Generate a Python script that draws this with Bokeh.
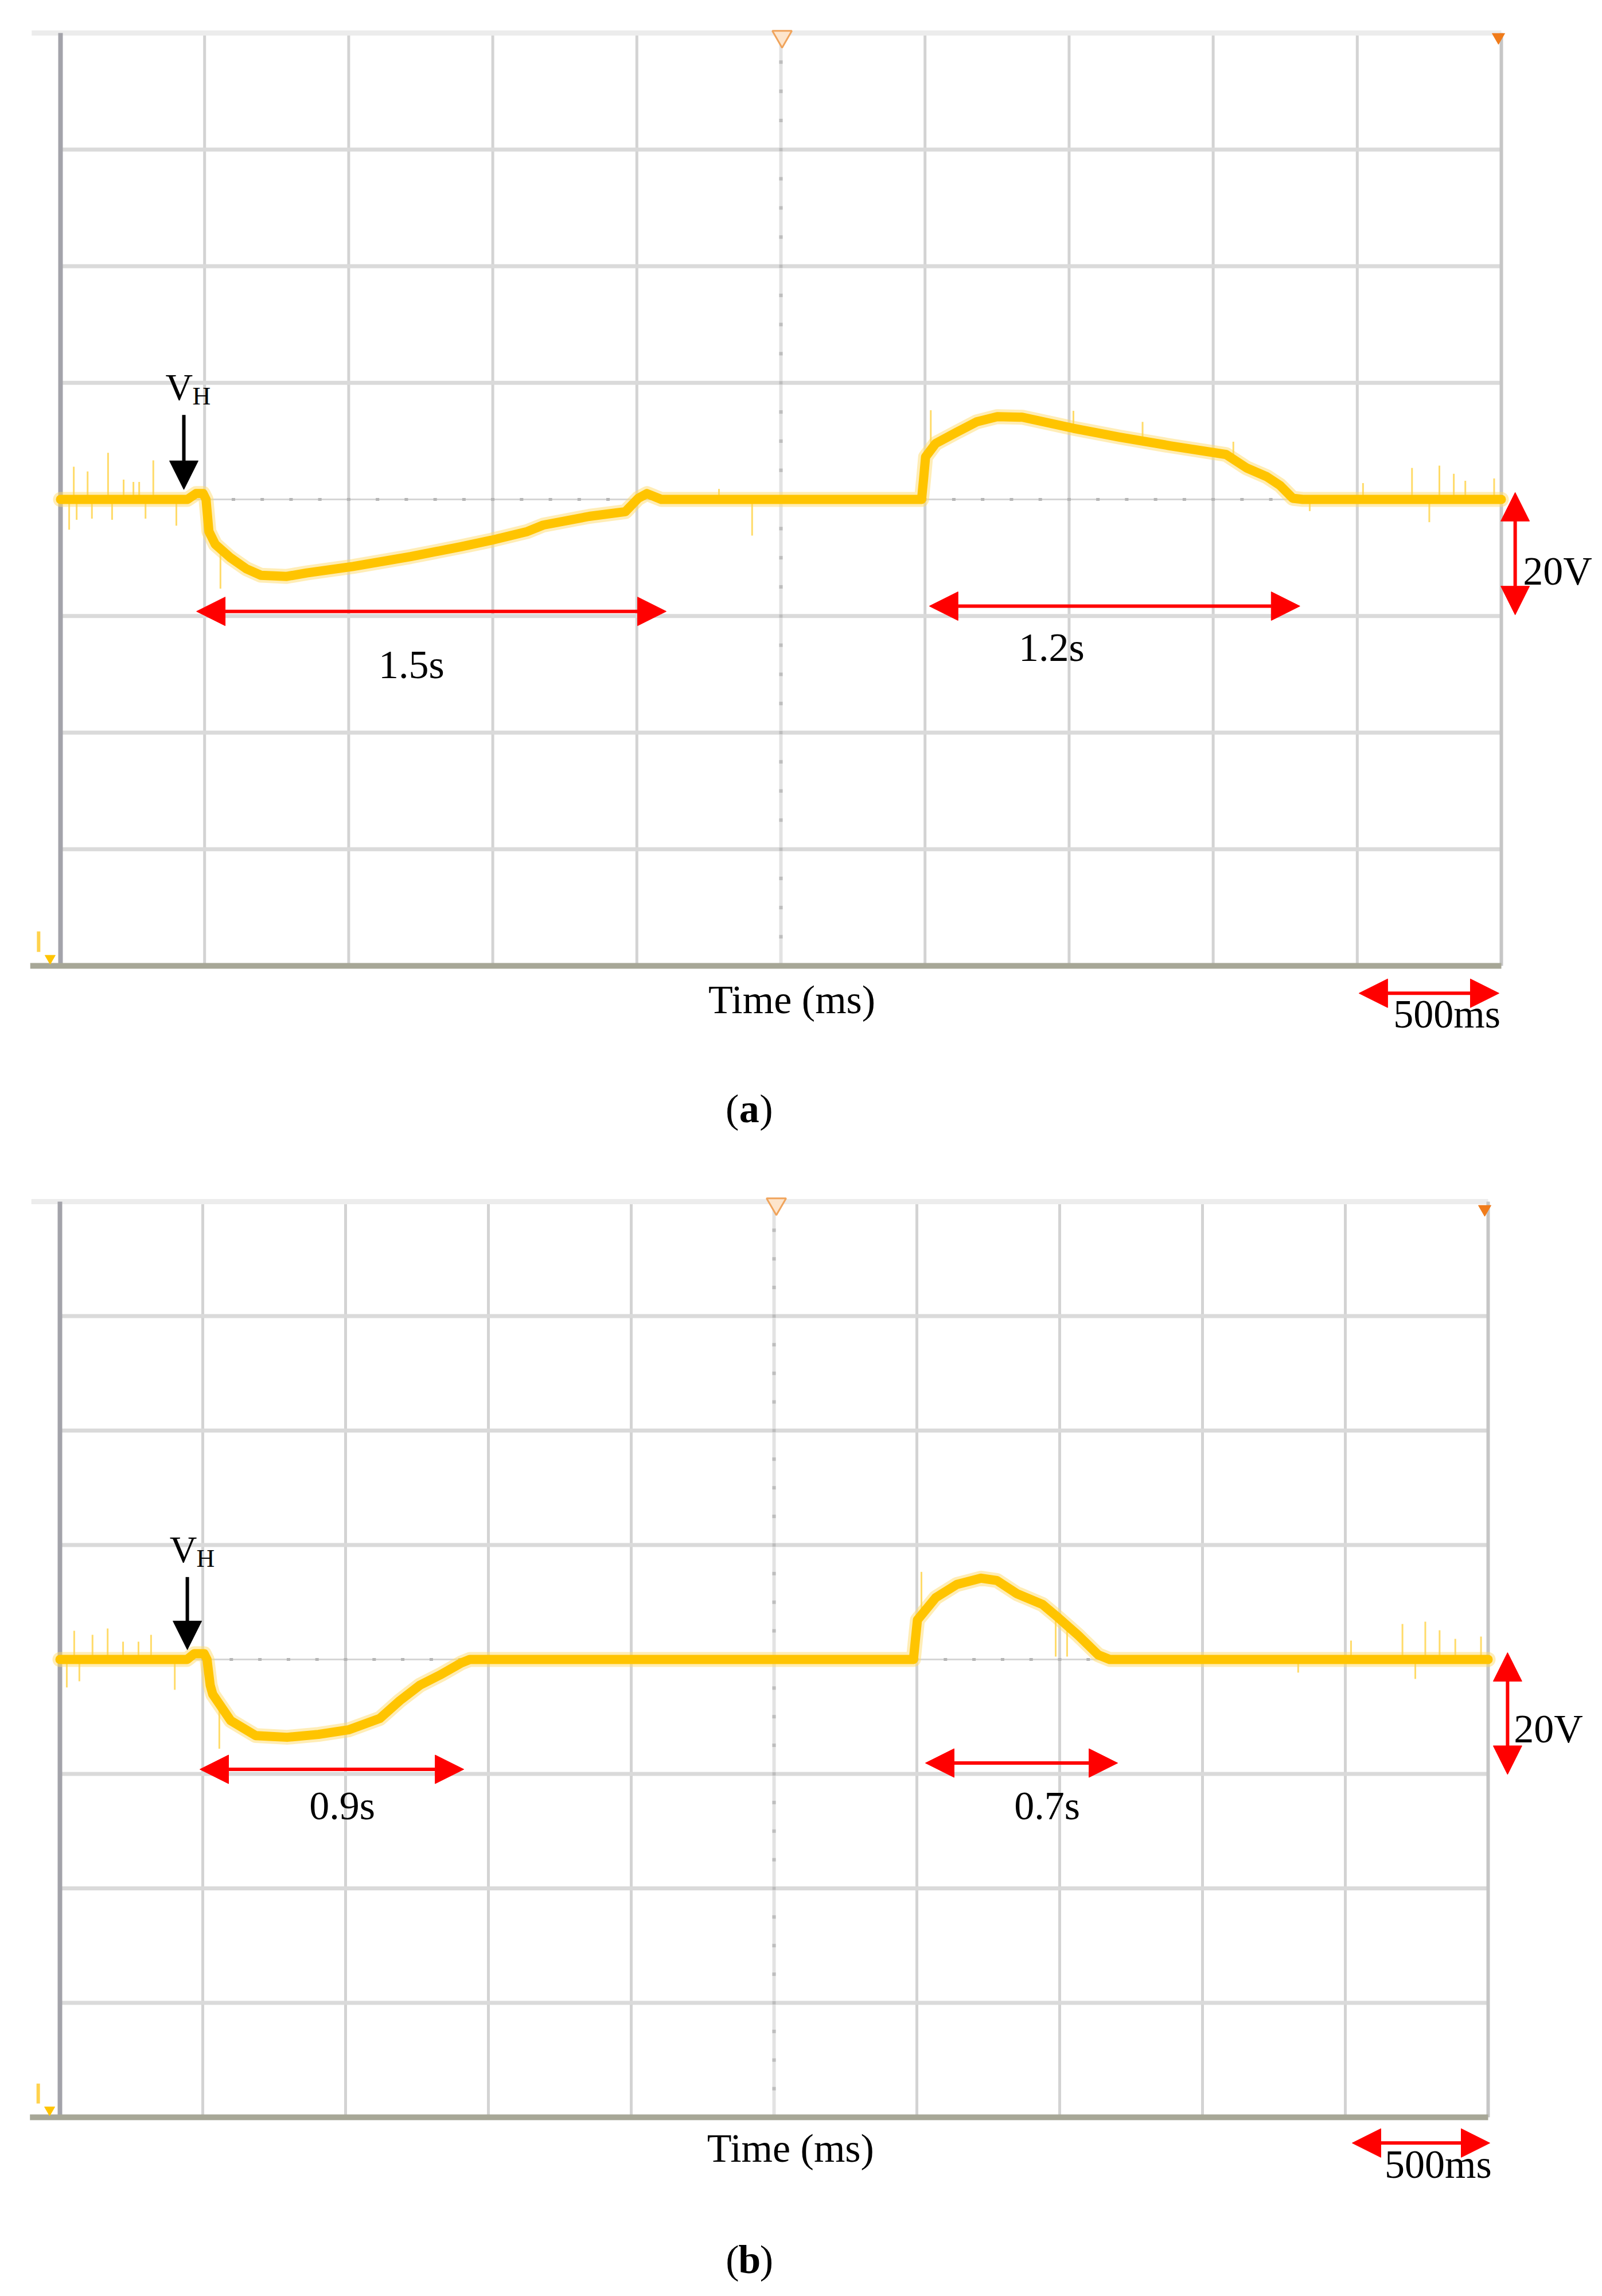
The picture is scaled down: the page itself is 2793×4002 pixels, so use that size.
import numpy as np
from bokeh.plotting import figure
from bokeh.layouts import column
from bokeh.models import Arrow, NormalHead, Label, Range1d
from bokeh.embed import file_html
from bokeh.resources import INLINE

FONT = "Liberation Serif"

# ---------------- data ----------------
# graticule: 500 ms/div, 20 V/div (10 x 8 divisions)
grid_time_ms = [0, 500, 1000, 1500, 2000, 2500, 3000, 3500, 4000, 4500, 5000]
grid_volt = [-80, -60, -40, -20, 0, 20, 40, 60, 80]

# panel (a) trace
a_time_ms = [0, 440, 470, 495, 505, 515, 537, 590, 645, 695, 785, 855, 1015, 1215,
             1390, 1495, 1620, 1675, 1835, 1960, 2005, 2035, 2085,
             2988, 2995, 3002, 3037, 3109, 3179, 3251, 3338, 3515, 3674, 3851,
             4045, 4116, 4186, 4232, 4276, 4311, 5000]
a_volt = [0, 0, 1.0, 1.0, 0, -5.5, -7.7, -10.0, -11.9, -13.0, -13.2, -12.6, -11.5, -9.8,
          -8.1, -7.0, -5.5, -4.4, -2.9, -2.1, 0.2, 1.0, 0,
          0, 3.5, 7.3, 9.6, 11.5, 13.3, 14.2, 14.1, 12.2, 10.7, 9.2,
          7.7, 5.4, 3.9, 2.4, 0.2, 0, 0]
a_spike_time = [30, 46, 56, 94, 109, 165, 179, 219, 253, 273, 295, 322, 402, 555,
                2285, 2400, 3020, 3515, 3755, 4070, 4335, 4520, 4690, 4750, 4785,
                4835, 4875, 4975]
a_spike_volt = [-5.2, 5.6, -3.5, 4.8, -3.3, 8.0, -3.5, 3.4, 3.0, 3.0, -3.3, 6.7, -4.5,
                -15.3, 1.8, -6.2, 15.3, 15.2, 13.3, 9.9, -2.0, 2.8, 5.4, -3.9, 5.8,
                4.4, 3.2, 3.6]

# panel (b) trace
b_time_ms = [0, 445, 470, 505, 515, 526, 535, 598, 685, 795, 905, 1010, 1120, 1190,
             1260, 1335, 1405, 1435,
             2988, 2995, 3002, 3066, 3140, 3225, 3280, 3350, 3440, 3495, 3565,
             3635, 3675, 5000]
b_volt = [0, 0, 1.0, 1.0, 0, -4.5, -6.1, -10.7, -13.3, -13.6, -13.1, -12.3, -10.3, -7.2,
          -4.5, -2.6, -0.6, 0,
          0, 3.5, 6.9, 10.8, 13.1, 14.2, 13.8, 11.5, 9.6, 7.3, 4.2,
          0.8, 0, 0]
b_spike_time = [24, 50, 68, 114, 167, 221, 275, 319, 402, 558, 3016, 3486, 3526,
                4335, 4520, 4700, 4745, 4780, 4830, 4885, 4975]
b_spike_volt = [-4.9, 5.0, -3.8, 4.3, 5.4, 3.1, 3.1, 4.3, -5.3, -15.6, 15.3, 0.5, 0.5,
                -2.3, 3.3, 6.2, -3.4, 6.6, 5.1, 3.6, 4.0]

# duration annotations (label, start ms, end ms)
a_durations = [("1.5s", 472, 2102), ("1.2s", 3015, 4301)]
b_durations = [("0.9s", 490, 1414), ("0.7s", 3030, 3703)]
scale_volt_label = "20V"
scale_time_label = "500ms"
x_title = "Time (ms)"

# ---------------- layout / style ----------------
PANELS = [
    dict(t=a_time_ms, v=a_volt, st=a_spike_time, sv=a_spike_volt, dur=a_durations,
         tag="a", height=2000, xr=(-209.0, 5350.3), yr=(-111.19, 85.61),
         dur_y=[-19.2, -18.3], dur_text=[(1218, -30.7), (3439, -27.7)],
         vh_arrow=(428, 14.5, 1.7), vh_v=(364, 17.1), vh_h=(458, 16.2),
         v20=(5048, 1.2, -19.8), v20_text=(5075, -14.6),
         t500=(4506, 4992, -84.7), t500_text=(4811, -90.6),
         title=(2538, -88.1), tag_pos=(2390, -106.8),
         trig=(2504, 79.4), corner=(4990, 79.3), px_per_ms=0.5024, px_per_v=10.1625),
    dict(t=b_time_ms, v=b_volt, st=b_spike_time, sv=b_spike_volt, dur=b_durations,
         tag="b", height=2002, xr=(-208.84, 5399.6), yr=(-111.28, 89.42),
         dur_y=[-19.2, -18.1], dur_text=[(988, -28.0), (3456, -28.0)],
         vh_arrow=(446, 14.4, 1.7), vh_v=(384, 17.0), vh_h=(478, 16.1),
         v20=(5068, 1.2, -20.1), v20_text=(5090, -14.5),
         t500=(4524, 5006, -84.5), t500_text=(4825, -90.6),
         title=(2558, -87.8), tag_pos=(2414, -107.3),
         trig=(2508, 79.6), corner=(4988, 78.7), px_per_ms=0.498, px_per_v=9.975),
]

TXT = 70


def head(color):
    return NormalHead(size=50, fill_color=color, line_color=color, line_width=1)


def label(p, c, x, y, text, size=TXT, align="center", bold=False):
    # lift so that the glyph baseline sits where it does in the reference
    y = y + 0.34 * size / c["px_per_v"]
    p.add_layout(Label(x=x, y=y, text=text, text_font=FONT,
                       text_font_size=f"{size}px",
                       text_color="black", text_align=align,
                       text_baseline="alphabetic",
                       text_font_style="bold" if bold else "normal"))


def make_panel(c):
    p = figure(width=2793, height=c["height"], x_range=Range1d(*c["xr"]),
               y_range=Range1d(*c["yr"]), output_backend="svg",
               toolbar_location=None, min_border=0, outline_line_color=None,
               background_fill_color="white", border_fill_color="white")
    p.xaxis.visible = False
    p.yaxis.visible = False
    p.xgrid.visible = False
    p.ygrid.visible = False
    t0, t1 = grid_time_ms[0], grid_time_ms[-1]
    v0, v1 = grid_volt[0], grid_volt[-1]
    tc = grid_time_ms[len(grid_time_ms) // 2]

    # graticule lines
    gx = [g for g in grid_time_ms[1:-1] if g != tc]
    p.segment(x0=gx, y0=[v0] * len(gx), x1=gx, y1=[v1] * len(gx),
              line_color="#d3d3d3", line_width=5)
    gy = [g for g in grid_volt[1:-1] if g != 0]
    p.segment(x0=[t0] * len(gy), y0=gy, x1=[t1] * len(gy), y1=gy,
              line_color="#dadada", line_width=7)

    # centre lines with minor marks
    p.segment(x0=[tc], y0=[v0], x1=[tc], y1=[v1], line_color="#e3e3e3", line_width=6)
    p.segment(x0=[t0], y0=[0], x1=[t1], y1=[0], line_color="#d6d6d6", line_width=3)
    mv = np.arange(v0, v1 + 0.01, 5.0)
    p.segment(x0=[tc] * len(mv), y0=mv - 0.3, x1=[tc] * len(mv), y1=mv + 0.3,
              line_color="#bdbdbd", line_width=6)
    mt = np.arange(t0, t1 + 0.01, 100.0)
    p.segment(x0=mt - 6, y0=[0] * len(mt), x1=mt + 6, y1=[0] * len(mt),
              line_color="#b5b5b5", line_width=5)

    # frame edges
    p.segment(x0=[t0 - 100], y0=[v1], x1=[t1], y1=[v1], line_color="#ececec",
              line_width=9)
    p.segment(x0=[t1], y0=[v0], x1=[t1], y1=[v1], line_color="#c6c6c6", line_width=6)
    p.segment(x0=[t0], y0=[v0], x1=[t0], y1=[v1], line_color="#a3a3aa", line_width=8)
    p.segment(x0=[t0 - 105], y0=[v0], x1=[t1], y1=[v0], line_color="#a7a797",
              line_width=10)

    # markers (trigger, ground)
    p.scatter([c["trig"][0]], [c["trig"][1]], marker="inverted_triangle", size=34,
              fill_color="#fde5cc", line_color="#f0a45c", line_width=3)
    p.scatter([c["corner"][0]], [c["corner"][1]], marker="inverted_triangle", size=22,
              fill_color="#f07b1a", line_color="#f07b1a")
    p.segment(x0=[t0 - 76], y0=[v0 + 5.9], x1=[t0 - 76], y1=[v0 + 2.4],
              line_color="#ffd24d", line_width=6)
    p.scatter([t0 - 36], [v0 + 1.3], marker="inverted_triangle", size=18,
              fill_color="#ffc400", line_color="#ffc400")

    # trace
    t = np.array(c["t"], dtype=float)
    v = np.array(c["v"], dtype=float)
    st = np.array(c["st"], dtype=float)
    sv = np.array(c["sv"], dtype=float)
    base = np.interp(st, t, v)
    p.line(t, v, line_color="#ffdc6e", line_width=26, line_alpha=0.5,
           line_join="round", line_cap="round")
    p.segment(x0=st, y0=base, x1=st, y1=sv, line_color="#ffd54f", line_width=3,
              line_alpha=0.85)
    p.line(t, v, line_color="#ffc400", line_width=16, line_join="round",
           line_cap="round")

    # V_H marker
    ax, ay0, ay1 = c["vh_arrow"]
    p.add_layout(Arrow(end=head("black"), start=None, x_start=ax, y_start=ay0,
                       x_end=ax, y_end=ay1, line_color="black", line_width=6))
    label(p, c, c["vh_v"][0], c["vh_v"][1], "V", size=66, align="left")
    label(p, c, c["vh_h"][0], c["vh_h"][1], "H", size=44, align="left")

    # duration arrows
    for (txt, s, e), yy, (tx, ty) in zip(c["dur"], c["dur_y"], c["dur_text"]):
        p.add_layout(Arrow(start=head("red"), end=head("red"), x_start=s, y_start=yy,
                           x_end=e, y_end=yy, line_color="red", line_width=6))
        label(p, c, tx, ty, txt)

    # 20 V scale
    sx, sy0, sy1 = c["v20"]
    p.add_layout(Arrow(start=head("red"), end=head("red"), x_start=sx, y_start=sy0,
                       x_end=sx, y_end=sy1, line_color="red", line_width=6))
    label(p, c, c["v20_text"][0], c["v20_text"][1], scale_volt_label, align="left")

    # 500 ms scale
    hx0, hx1, hy = c["t500"]
    p.add_layout(Arrow(start=head("red"), end=head("red"), x_start=hx0, y_start=hy,
                       x_end=hx1, y_end=hy, line_color="red", line_width=6))
    label(p, c, c["t500_text"][0], c["t500_text"][1], scale_time_label)

    # axis title and panel tag
    label(p, c, c["title"][0], c["title"][1], x_title)
    tx, ty = c["tag_pos"]
    half = 18 / c["px_per_ms"]
    label(p, c, tx, ty, c["tag"], bold=True)
    label(p, c, tx - half, ty, "(", align="right")
    label(p, c, tx + half, ty, ")", align="left")
    return p


figs = [make_panel(c) for c in PANELS]
layout = column(*figs, spacing=0)
open("out.html", "w").write(file_html(layout, INLINE))
